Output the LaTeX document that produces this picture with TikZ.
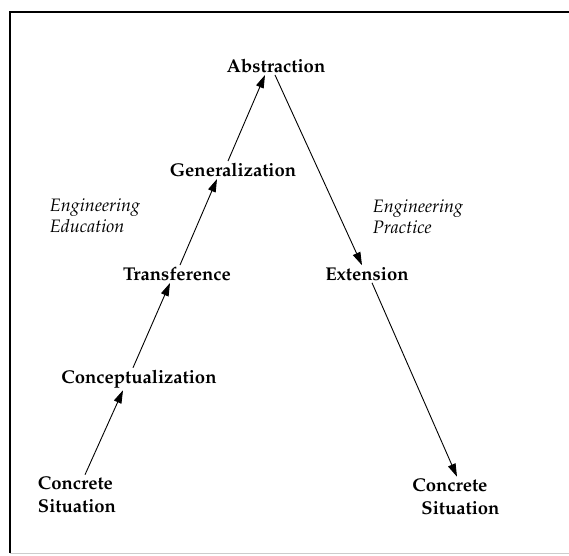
\documentclass[tikz,border=0pt]{standalone}
\usepackage[T1]{fontenc}
\usepackage{mathpazo}
\usetikzlibrary{arrows.meta}

\begin{document}
\begin{tikzpicture}[x=1pt,y=-1pt,
  stage/.style={font=\fontsize{18.5}{23}\selectfont\bfseries, inner sep=2pt},
  mode/.style={font=\fontsize{18}{21}\selectfont\itshape, align=left},
  flow/.style={-{Triangle[length=13pt,width=8pt]}, line width=0.9pt}]
  \useasboundingbox (0,0) rectangle (569,555);

  % Marco
  \draw[line width=2pt] (569,12) -- (10,12) -- (10,553);
  \draw[black!20, line width=1pt] (10,553) -- (569,553);

  % Lado izquierdo (educacion)
  \node[stage, align=left] (csl) at (77,495) {Concrete\\Situation};
  \node[stage] (concept) at (139,379) {Conceptualization};
  \node[stage] (trans) at (177,274) {Transference};
  \node[stage] (gen) at (233,170) {Generalization};
  \node[stage] (abs) at (276,66) {Abstraction};

  % Lado derecho (practica)
  \node[stage] (ext) at (367,274) {Extension};
  \node[stage, align=left] (csr) at (456,497) {Concrete\\\hspace*{9pt}Situation};

  \node[mode] (edu) at (95,216) {Engineering\\Education};
  \node[mode] (prac) at (418,217) {Engineering\\Practice};

  % Flechas
  \draw[flow] ([xshift=8pt]csl.north) -- ([xshift=-16pt]concept.south);
  \draw[flow] ([xshift=-6pt]concept.north) -- ([xshift=-7pt]trans.south);
  \draw[flow] ([xshift=3pt]trans.north) -- ([xshift=-16pt]gen.south);
  \draw[flow] ([xshift=-5pt]gen.north) -- ([xshift=-11pt]abs.south);
  \draw[flow] ([xshift=-1pt]abs.south) -- ([xshift=-5pt]ext.north);
  \draw[flow] ([xshift=5pt]ext.south) -- ([xshift=1pt]csr.north);
\end{tikzpicture}
\end{document}
